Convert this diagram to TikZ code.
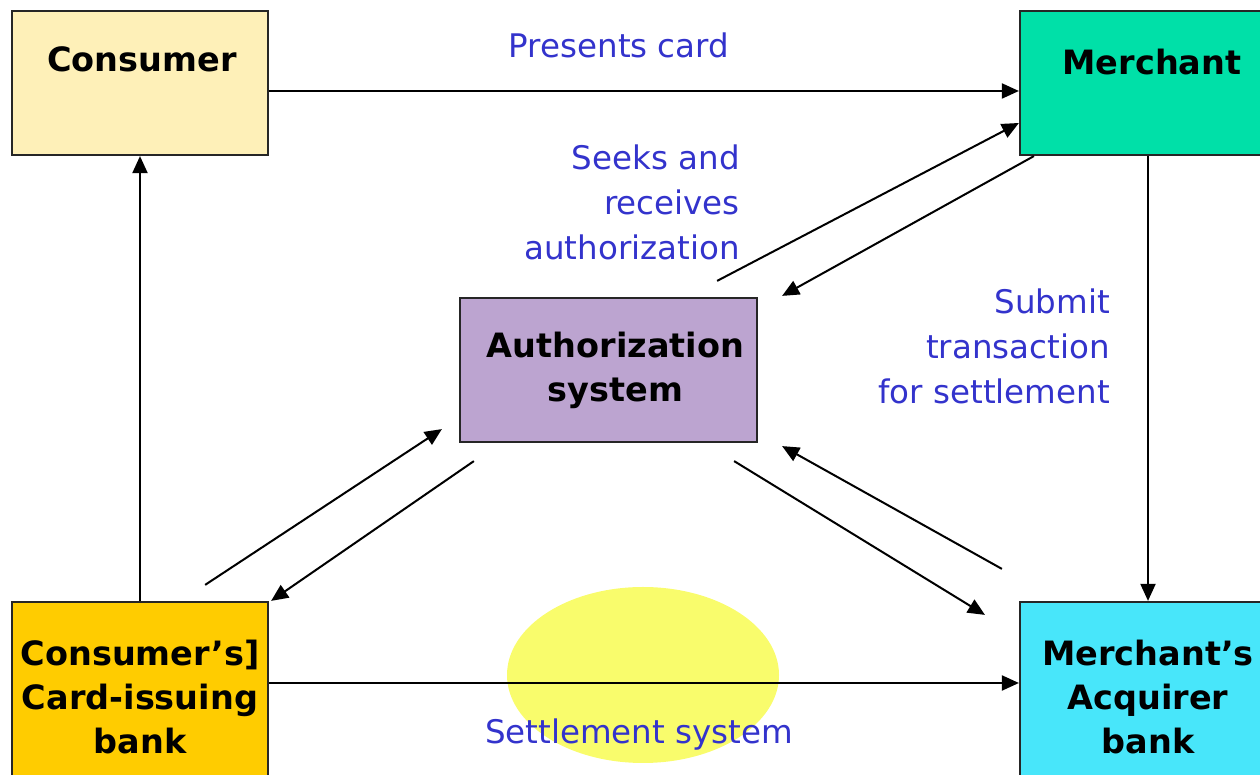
\documentclass[tikz,border=0pt]{standalone}
\usepackage{fontspec}
\setmainfont{DejaVu Sans}
\usetikzlibrary{positioning,calc,arrows.meta,shapes.geometric}
\definecolor{consumerfill}{HTML}{FEF0B8}
\definecolor{merchantfill}{HTML}{00E0A8}
\definecolor{authfill}{HTML}{BCA4D0}
\definecolor{issuerfill}{HTML}{FFCC00}
\definecolor{acquirerfill}{HTML}{48E6FA}
\definecolor{settlefill}{HTML}{F9FC6C}
\definecolor{labelblue}{HTML}{3333CC}
\tikzstyle{every node}=[font=\fontsize{32.5}{45}\selectfont]
\tikzstyle{box} = [rectangle, draw=black!85, line width=2.2pt, minimum width=256pt, minimum height=144pt, inner sep=0pt, align=center]
\tikzstyle{title} = [font=\fontsize{33.5}{44}\selectfont\bfseries, align=center, text=black]
\tikzstyle{arrow} = [line width=2pt, ->, >={Triangle[length=17pt,width=15pt]}]
\tikzstyle{textarr} = [text=labelblue, align=right, inner sep=0pt]

\begin{document}
\begin{tikzpicture}[x=1pt,y=1pt]
\useasboundingbox (0,0) rectangle (1260,775);
\clip (0,0) rectangle (1260,775);

\node (settle) [ellipse, fill=settlefill, minimum width=272pt, minimum height=176pt] at (643,100) {};

\node (consumer) [box, fill=consumerfill] at (140,692) {};
\node (merchant) [box, fill=merchantfill] at (1148,692) {};
\node (auth) [box, fill=authfill, minimum width=297pt, title] at (608.5,405) {\hspace{14pt}Authorization\\\hspace{14pt}system};
\node (issuer) [box, fill=issuerfill, minimum height=190pt, title] at (140,78) {Consumer’s]\\Card-issuing\\bank};
\node (acquirer) [box, fill=acquirerfill, minimum height=190pt, title] at (1148,78) {Merchant’s\\Acquirer\\bank};

\node (consumertitle) [title] at ([xshift=2pt,yshift=-49pt]consumer.north) {Consumer};
\node (merchanttitle) [title] at ([xshift=4pt,yshift=-52pt]merchant.north) {Merchant};

\node (presents) [textarr] at (619,730) {Presents card};
\node (seeks) [textarr, anchor=east] at (740,573) {Seeks and\\receives\\authorization};
\node (submit) [textarr, anchor=east] at (1110,429) {Submit\\transaction\\for settlement};
\node (settletext) [textarr] at (639,40) {Settlement system};

\draw [arrow] ([yshift=-8pt]consumer.east) -- ([yshift=-8pt]merchant.west);
\draw [arrow] (issuer.north) -- (consumer.south);
\draw [arrow] ([yshift=14pt]issuer.east) -- ([yshift=14pt]acquirer.west);
\draw [arrow] (merchant.south) -- (acquirer.north);

\draw [arrow] ([xshift=-41pt,yshift=16pt]auth.north east) -- ([yshift=-40pt]merchant.west);
\draw [arrow] ([xshift=15pt]merchant.south west) -- ([xshift=24pt,yshift=1pt]auth.north east);
\draw [arrow] ([xshift=-64pt,yshift=16pt]issuer.north east) -- ([xshift=-17pt,yshift=14pt]auth.south west);
\draw [arrow] ([xshift=15pt,yshift=-18pt]auth.south west) -- ([xshift=2pt]issuer.north east);
\draw [arrow] ([xshift=-24pt,yshift=-18pt]auth.south east) -- ([xshift=-34pt,yshift=-14pt]acquirer.north west);
\draw [arrow] ([xshift=-17pt,yshift=32pt]acquirer.north west) -- ([xshift=24pt,yshift=-3pt]auth.south east);

\end{tikzpicture}
\end{document}
